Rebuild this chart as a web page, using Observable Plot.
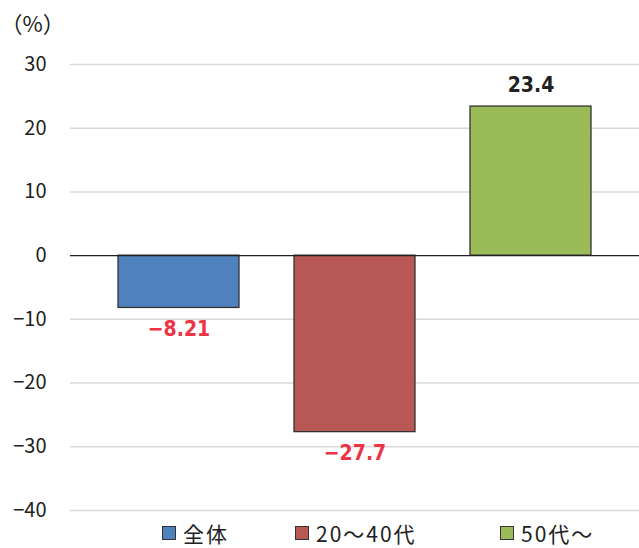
<!DOCTYPE html>
<html><head><meta charset="utf-8">
<script src="https://cdn.jsdelivr.net/npm/d3@7"></script>
<script src="https://cdn.jsdelivr.net/npm/@observablehq/plot@0.6"></script>
<style>
body{margin:0;background:#fff;font-family:"Noto Sans CJK JP",sans-serif;overflow:hidden;}
#wrap{position:relative;width:639px;height:548px;}
svg{display:block;}
#legend{position:absolute;left:0;top:518px;height:30px;width:639px;}
.item{position:absolute;top:0;height:30px;display:flex;align-items:center;font-size:21px;letter-spacing:2px;color:#222;line-height:30px;}
.sw{width:12px;height:12px;border:1px solid #333;margin-right:7px;}
</style>
</head><body><div id="wrap"><div id="chart"></div><div id="legend"></div></div>
<script>
const categories = ["全体", "20～40代", "50代～"];
const values = [-8.21, -27.7, 23.4];
const valueLabels = ["−8.21", "−27.7", "23.4"];
const colors = ["#4f81bd", "#b85855", "#9bbb59"];
const yTicks = [30, 20, 10, 0, -10, -20, -30, -40];
const unitLabel = "（%）";

const data = categories.map((c, i) => ({cat: c, v: values[i], label: valueLabels[i], color: colors[i]}));
const labelFont = "'DejaVu Sans Condensed', 'Liberation Sans Narrow', sans-serif";
const cjk = "'Noto Sans CJK JP', sans-serif";

const chart = Plot.plot({
  width: 639, height: 548,
  marginLeft: 70, marginRight: 0, marginTop: 64, marginBottom: 38,
  style: {fontFamily: cjk, background: "#fff"},
  x: {domain: categories, range: [90.5, 618.5], paddingInner: 0.31, paddingOuter: 0.155, axis: null},
  y: {domain: [-40, 30], axis: null},
  marks: [
    Plot.ruleY(yTicks.filter(d => d !== 0), {stroke: "#d9d9d9", strokeWidth: 1.5}),
    Plot.axisY(yTicks, {tickSize: 0, tickPadding: 24, fontSize: 20, fill: "#222", textAnchor: "end", label: null, fontFamily: cjk}),
    Plot.barY(data, {x: "cat", y: "v", fill: "color", stroke: "#333", strokeWidth: 1.3}),
    Plot.ruleY([0], {stroke: "#222", strokeWidth: 1.2}),
    Plot.text(data.filter(d => d.v < 0), {x: "cat", y: "v", text: "label", dy: 21, fill: "#ee3344", fontSize: 21, fontWeight: 900, fontFamily: labelFont}),
    Plot.text(data.filter(d => d.v >= 0), {x: "cat", y: "v", text: "label", dy: -21, fill: "#222", fontSize: 21, fontWeight: 900, fontFamily: labelFont}),
    Plot.text([unitLabel], {frameAnchor: "top-left", lineAnchor: "middle", dx: -70, dy: -40, fontSize: 22, fill: "#222", textAnchor: "start", fontFamily: cjk})
  ]
});
document.getElementById("chart").append(chart);

const legendX = [162, 295, 500];
const legend = document.getElementById("legend");
categories.forEach((c, i) => {
  const it = document.createElement("div");
  it.className = "item";
  it.style.left = legendX[i] + "px";
  const sw = document.createElement("div");
  sw.className = "sw";
  sw.style.background = colors[i];
  const t = document.createElement("span");
  t.textContent = c;
  it.append(sw, t);
  legend.append(it);
});
</script>
</body></html>
